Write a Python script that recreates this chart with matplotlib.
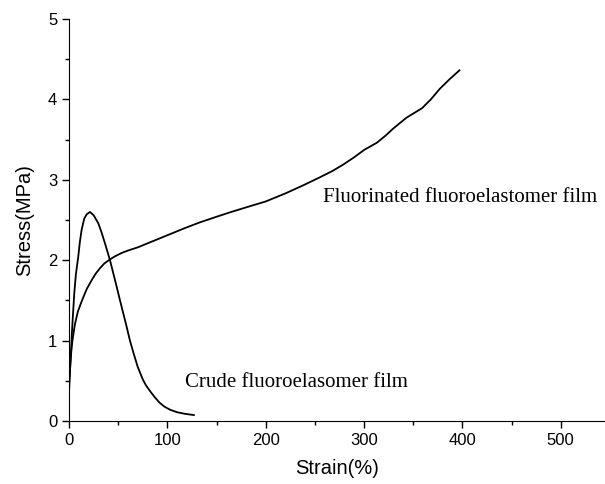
import matplotlib.pyplot as plt
from matplotlib.ticker import MultipleLocator

# Crude film: strain (%) vs stress (MPa)
crude_strain = [0, 1, 2, 3, 4.2, 5.4, 7, 9.5, 11, 12.9, 15.6, 18, 21.4, 25, 29.8, 33,
                36.6, 41.7, 45, 48.5, 51.9, 55, 58.5, 62, 66, 70, 75, 78, 82, 87, 92,
                97, 103, 110, 118, 127]
crude_stress = [0.35, 0.6, 0.85, 1.1, 1.35, 1.59, 1.82, 2.05, 2.22, 2.38, 2.52, 2.57,
                2.6, 2.56, 2.46, 2.35, 2.21, 2.0, 1.84, 1.67, 1.5, 1.35, 1.18, 1.0,
                0.83, 0.67, 0.52, 0.45, 0.38, 0.3, 0.23, 0.18, 0.14, 0.11, 0.09, 0.075]

# Fluorinated film
fluor_strain = [0, 1, 2, 3.5, 6, 9, 12, 14.6, 18, 23, 27, 31.5, 36, 41.7, 47, 53.6, 60,
                70, 80, 90, 100, 118, 133, 150, 165, 181, 200, 220, 238, 255, 268, 279,
                290, 300, 313, 322, 330, 343, 359, 368, 377, 387, 397]
fluor_stress = [0.45, 0.65, 0.82, 1.0, 1.2, 1.36, 1.46, 1.54, 1.64, 1.75, 1.83, 1.9,
                1.96, 2.01, 2.05, 2.09, 2.12, 2.16, 2.21, 2.26, 2.31, 2.4, 2.47, 2.54,
                2.6, 2.66, 2.73, 2.83, 2.93, 3.03, 3.11, 3.19, 3.28, 3.37, 3.46, 3.55,
                3.64, 3.77, 3.89, 4.0, 4.13, 4.25, 4.36]

plt.rcParams['font.family'] = 'Liberation Sans'

fig = plt.figure(figsize=(6.05, 4.84), dpi=100)
ax = fig.add_axes([0.114, 0.13, 0.886, 0.831])

ax.plot(crude_strain, crude_stress, color='black', lw=1.3)
ax.plot(fluor_strain, fluor_stress, color='black', lw=1.3)

ax.text(258, 2.72, 'Fluorinated fluoroelastomer film', family='Liberation Serif',
        fontsize=15, va='baseline', ha='left')
ax.text(118, 0.42, 'Crude fluoroelasomer film', family='Liberation Serif',
        fontsize=15, va='baseline', ha='left')

ax.set_xlim(0, 545)
ax.set_ylim(0, 5)
ax.xaxis.set_major_locator(MultipleLocator(100))
ax.xaxis.set_minor_locator(MultipleLocator(50))
ax.yaxis.set_major_locator(MultipleLocator(1))
ax.yaxis.set_minor_locator(MultipleLocator(0.5))
ax.tick_params(which='major', direction='out', length=5, width=1, labelsize=12)
ax.tick_params(which='minor', direction='out', length=3, width=1)

ax.spines['top'].set_visible(False)
ax.spines['right'].set_visible(False)

ax.set_xlabel('Strain(%)', fontsize=14.5, labelpad=8)
ax.set_ylabel('Stress(MPa)', fontsize=14.5, labelpad=10)

fig.savefig('out.png', dpi=100)
